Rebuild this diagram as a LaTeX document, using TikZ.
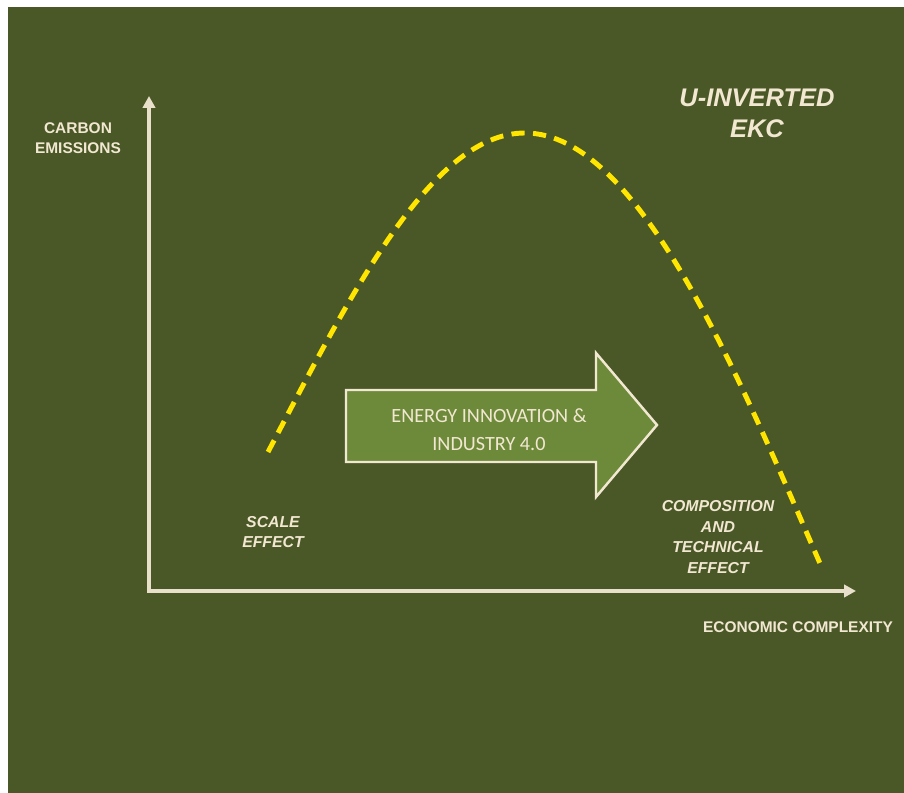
\documentclass[tikz,border=0pt]{standalone}
\usepackage{fontspec}
\setmainfont{Liberation Sans}
\newfontfamily\arrowfont{Carlito}
\usepackage{tikz}
\usetikzlibrary{arrows.meta}
\definecolor{boardgreen}{HTML}{4A5827}
\definecolor{arrowgreen}{HTML}{6D8A3A}
\definecolor{chalk}{HTML}{F2E8D2}
\definecolor{curveyellow}{HTML}{FFE500}

\begin{document}
\begin{tikzpicture}[x=0.02cm,y=-0.02cm,
	axis/.style={draw=chalk!92!gray, line width=1.8pt, {Triangle[length=6.8pt,width=7pt]}-{Triangle[length=6.8pt,width=7pt]}},
	axistext/.style={text=chalk, font=\fontsize{8.8}{11.3}\selectfont\bfseries, align=center},
	effecttext/.style={text=chalk, font=\fontsize{9}{11.8}\selectfont\bfseries\itshape, align=center},
	curve/.style={draw=curveyellow, line width=2.8pt, dash pattern=on 7.5pt off 4.8pt}]
			% board
			\fill[white] (0,0) rectangle (904,793);
			\fill[boardgreen] (8,7) rectangle (904,793);
			\useasboundingbox (0,0) rectangle (904,793);
			
			% axes
			\coordinate (O) at (149,591);
			\coordinate (Ytop) at (149,96);
			\coordinate (Xend) at (856,591);
			\draw[axis] (Ytop) -- (O) -- (Xend);
			\node[axistext] (ylab) at (78,138) {CARBON\\EMISSIONS};
			\node[axistext] (xlab) at (798,627) {ECONOMIC COMPLEXITY};
			
			% inverted U curve
			\coordinate (cstart) at (268,452);
			\coordinate (cpeak) at (525,133);
			\coordinate (cend) at (822,568);
			\draw[curve] (cstart) .. controls (348,300) and (430,133) .. (cpeak)
				.. controls (640,133) and (740,380) .. (cend);
			\node[effecttext, font=\fontsize{14.5}{17.6}\selectfont\bfseries\itshape] (ekc) at (757,113) {U-INVERTED\\EKC};
			
			% block arrow
			\draw[fill=arrowgreen, draw=chalk, line width=1.4pt] (346,390) -- (596,390) -- (596,353) -- (657,425)
				-- (596,497) -- (596,462) -- (346,462) -- cycle;
			\node[text=chalk, font=\fontsize{11.5}{15.9}\selectfont\arrowfont, align=center] (innov) at (489,430) {ENERGY INNOVATION \&\\INDUSTRY 4.0};
			
			% effects
			\node[effecttext] (scale) at (273,532) {SCALE\\EFFECT};
			\node[effecttext] (comp) at (718,537) {COMPOSITION\\AND\\TECHNICAL\\EFFECT};
\end{tikzpicture}
\end{document}
